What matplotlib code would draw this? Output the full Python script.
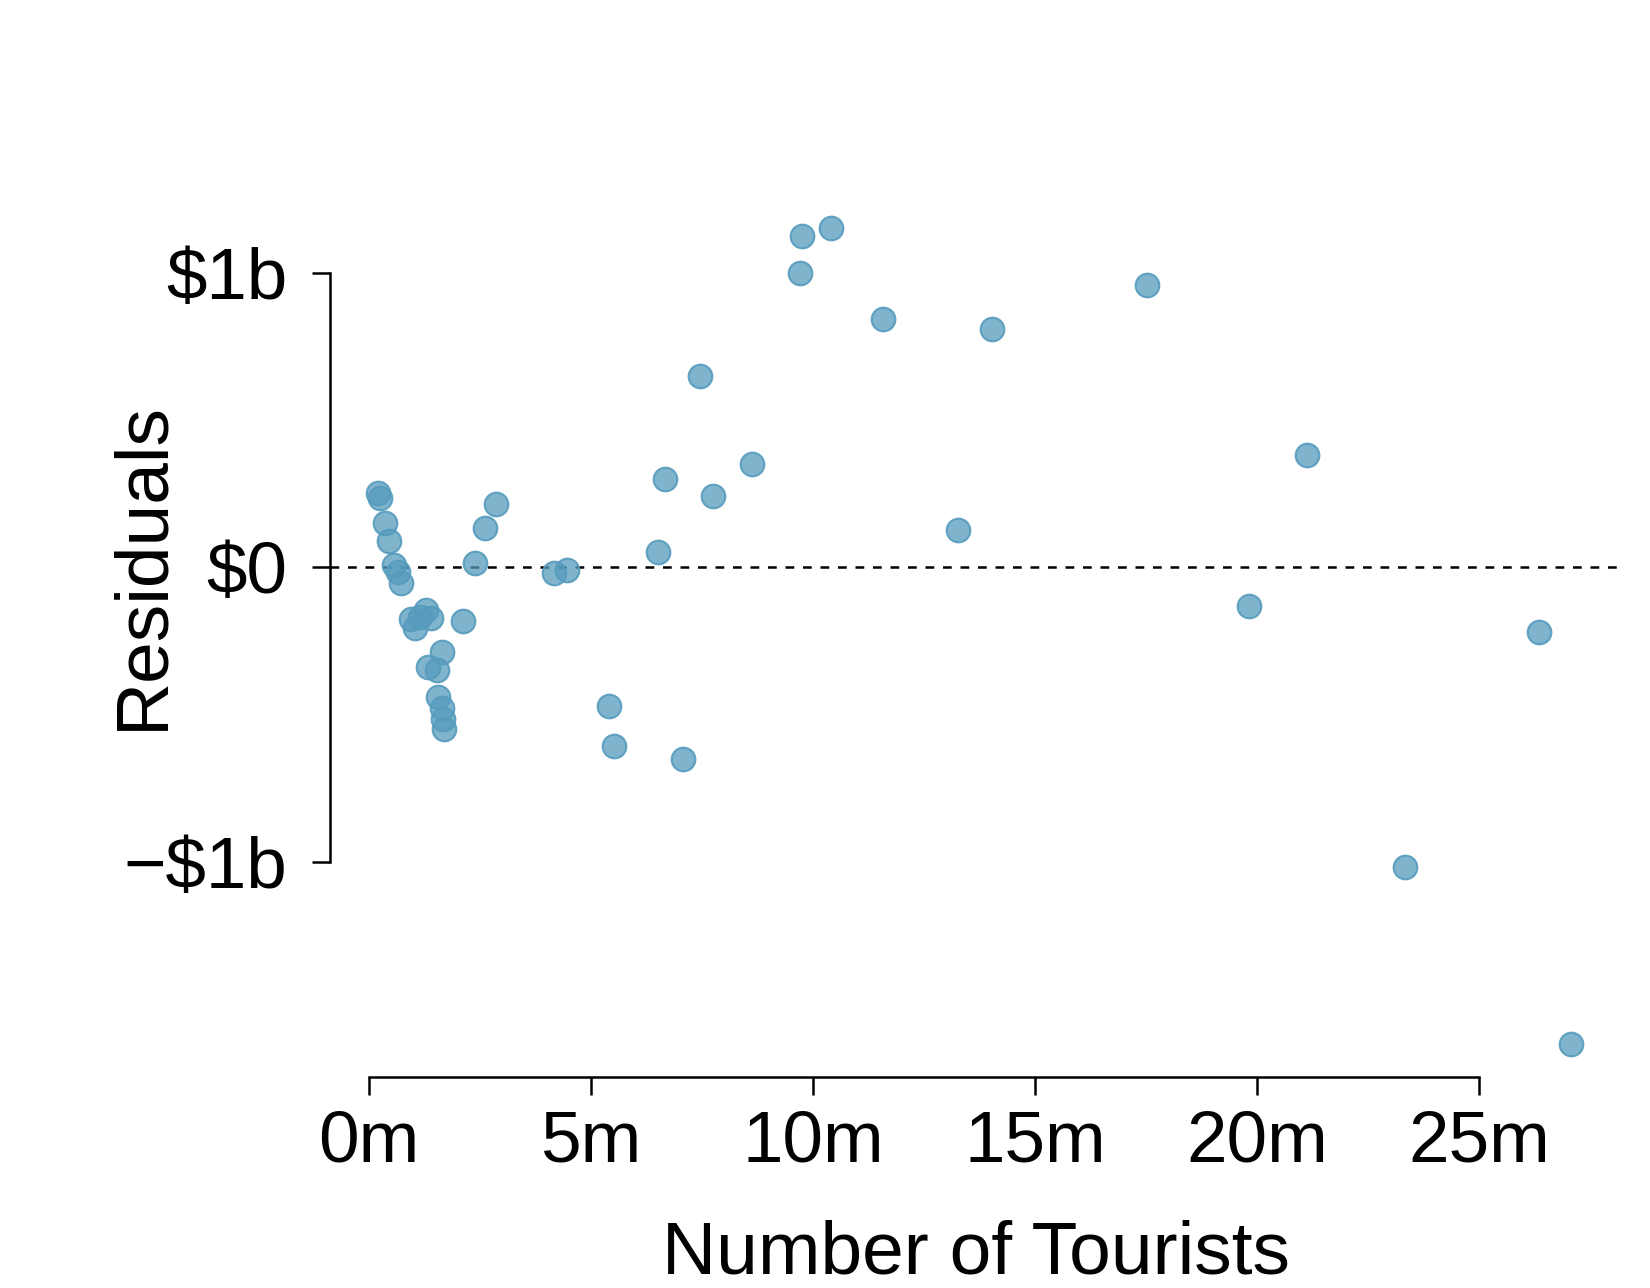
import matplotlib
matplotlib.use("Agg")
import matplotlib.pyplot as plt
from matplotlib.ticker import FixedLocator

plt.rcParams['font.family'] = ['Liberation Sans', 'DejaVu Sans']

# Number of tourists (millions) and residuals (billions of dollars)
tourists = [0.21, 0.25, 0.36, 0.46, 0.58, 0.65, 0.72,
            0.95, 1.05, 1.16, 1.29, 1.40, 2.13,
            1.64, 1.34, 1.54, 1.55, 1.65, 1.67, 1.69,
            2.39, 2.62, 2.86, 4.18, 4.47,
            5.40, 5.52, 7.08, 6.51, 6.68, 7.46, 7.74, 8.62,
            9.70, 9.76, 10.41, 11.58, 13.26, 14.04, 17.52,
            19.82, 21.12, 23.32, 26.33, 27.06]
residuals = [0.251, 0.234, 0.151, 0.090, 0.007, -0.015, -0.053,
             -0.175, -0.205, -0.168, -0.145, -0.173, -0.182,
             -0.287, -0.339, -0.350, -0.442, -0.479, -0.516, -0.550,
             0.013, 0.133, 0.213, -0.021, -0.008,
             -0.471, -0.607, -0.650, 0.050, 0.300, 0.650, 0.243, 0.350,
             0.998, 1.124, 1.150, 0.843, 0.125, 0.807, 0.957,
             -0.132, 0.382, -1.018, -0.221, -1.618]

xticks = [0, 5, 10, 15, 20, 25]
xticklabels = ['0m', '5m', '10m', '15m', '20m', '25m']
yticks = [-1, 0, 1]
yticklabels = ['\u2212$1b', '$0', '$1b']

fig = plt.figure(figsize=(16.5, 12.88), dpi=100)
ax = fig.add_axes([0.2002, 0.1642, 0.981 - 0.2002, 0.848 - 0.1642])

ax.axhline(0, color='black', lw=1.8, ls=(0, (3.5, 3.5)), zorder=1)
ax.scatter(tourists, residuals, s=290, facecolor=(0x56/255, 0x9B/255, 0xBD/255, 0.75),
           edgecolor=(0x56/255, 0x9B/255, 0xBD/255, 0.9), linewidth=1.5, zorder=3)

span_x = max(tourists) - min(tourists)
span_y = max(residuals) - min(residuals)
ax.set_xlim(min(tourists) - 0.04 * span_x, max(tourists) + 0.04 * span_x)
ax.set_ylim(min(residuals) - 0.04 * span_y, max(residuals) + 0.04 * span_y)

ax.spines['top'].set_visible(False)
ax.spines['right'].set_visible(False)
ax.spines['left'].set_bounds(-1, 1)
ax.spines['bottom'].set_bounds(0, 25)
for s in ('left', 'bottom'):
    ax.spines[s].set_linewidth(1.8)

ax.xaxis.set_major_locator(FixedLocator(xticks))
ax.set_xticklabels(xticklabels)
ax.yaxis.set_major_locator(FixedLocator(yticks))
ax.set_yticklabels(yticklabels)
ax.tick_params(axis='both', direction='out', length=13, width=1.8, labelsize=52.5)
ax.tick_params(axis='x', pad=11)
ax.tick_params(axis='y', pad=18)

fig.text(976 / 1650, 15 / 1288, 'Number of Tourists', fontsize=54,
         ha='center', va='baseline')
fig.text(143 / 1650, 722 / 1288, 'Residuals', fontsize=54, rotation=90,
         ha='center', va='center')

fig.savefig('out.png', dpi=100)
